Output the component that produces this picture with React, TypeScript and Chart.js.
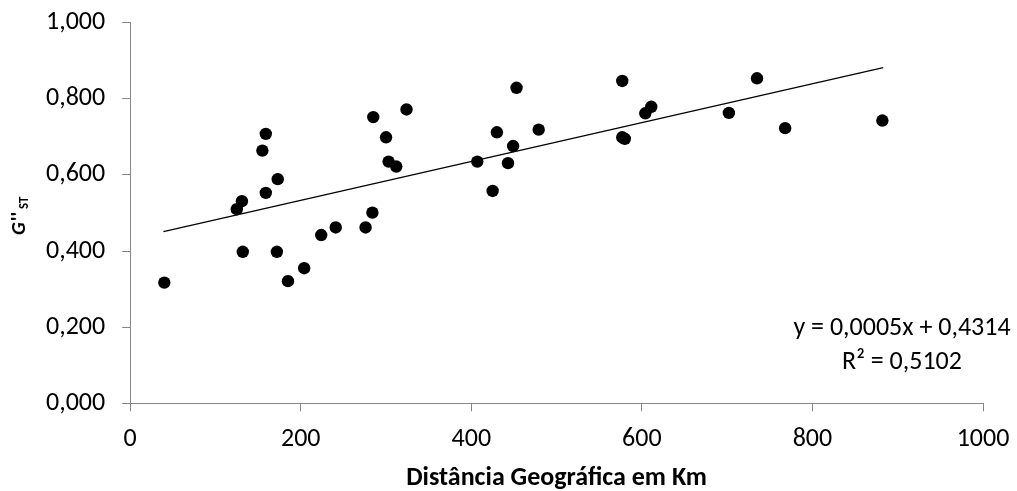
import React, { useEffect, useRef } from "react";
import { Chart, registerables } from "chart.js";

Chart.register(...registerables);

const distanceKm = [
  40, 125, 131, 132, 155, 159, 159, 173, 172, 185, 204, 224, 241, 276, 284, 285, 300, 303,
  312, 324, 407, 425, 430, 443, 449, 453, 479, 577, 577, 580, 604, 611, 702, 735, 768, 882,
];
const gstValues = [
  0.317, 0.51, 0.531, 0.398, 0.664, 0.708, 0.553, 0.589, 0.398, 0.321, 0.355, 0.442, 0.462,
  0.462, 0.501, 0.752, 0.699, 0.635, 0.622, 0.772, 0.635, 0.558, 0.712, 0.631, 0.676, 0.829,
  0.719, 0.847, 0.699, 0.695, 0.762, 0.779, 0.763, 0.854, 0.723, 0.743,
];
const trendX = [39, 883];
const trendY = [0.451, 0.882];
const xTicks = [0, 200, 400, 600, 800, 1000];
const yTicks = [0, 0.2, 0.4, 0.6, 0.8, 1.0];
const equationLines = ["y = 0,0005x + 0,4314", "R² = 0,5102"];
const xTitle = "Distância Geográfica em Km";

const FONT = "Carlito, Lato, 'Open Sans', sans-serif";
const AXIS = "#868686";

const annotPlugin = {
  id: "annot",
  afterDraw(chart: any) {
    const ctx = chart.ctx as CanvasRenderingContext2D;
    const area = chart.chartArea;
    ctx.save();
    ctx.fillStyle = "#000";
    // Y axis title: G''ST rotated
    ctx.translate(24.5, 235);
    ctx.rotate(-Math.PI / 2);
    ctx.textAlign = "left";
    ctx.textBaseline = "alphabetic";
    ctx.font = `italic bold 20px ${FONT}`;
    ctx.fillText("G", 0, 0);
    let w = ctx.measureText("G").width;
    ctx.font = `bold 20px ${FONT}`;
    ctx.fillText("''", w + 1, 0);
    w += 1 + ctx.measureText("''").width;
    ctx.font = `bold 13px ${FONT}`;
    ctx.fillText("ST", w + 3, 3);
    ctx.restore();

    // Regression equation
    ctx.save();
    ctx.fillStyle = "#000";
    ctx.textAlign = "center";
    ctx.textBaseline = "middle";
    ctx.font = `26px ${FONT}`;
    const cx = area.right - 81;
    ctx.fillText(equationLines[0], cx, area.bottom - 75);
    ctx.fillText(equationLines[1], cx, area.bottom - 41);
    ctx.restore();
  },
};

export default function App() {
  const ref = useRef<HTMLCanvasElement | null>(null);
  useEffect(() => {
    if (!ref.current) return;
    const points = distanceKm.map((x, i) => ({ x, y: gstValues[i] }));
    const trend = trendX.map((x, i) => ({ x, y: trendY[i] }));
    const chart = new Chart(ref.current, {
      type: "scatter",
      data: {
        datasets: [
          {
            type: "line",
            label: "Linear",
            data: trend,
            borderColor: "#000",
            borderWidth: 1.2,
            pointRadius: 0,
            fill: false,
          } as any,
          {
            label: "G''ST",
            data: points,
            backgroundColor: "#000",
            borderColor: "#000",
            borderWidth: 0,
            pointRadius: 6.2,
            pointHoverRadius: 6.2,
          },
        ],
      },
      options: {
        animation: false,
        responsive: true,
        maintainAspectRatio: false,
        layout: { padding: { left: 0, right: 34, top: 22.7, bottom: 0 } },
        plugins: { legend: { display: false }, tooltip: { enabled: false } },
        scales: {
          x: {
            type: "linear",
            min: 0,
            max: 1000,
            afterBuildTicks: (s: any) => {
              s.ticks = xTicks.map((v) => ({ value: v }));
            },
            afterFit: (s: any) => {
              s.height = 87.7;
              s.paddingLeft = 0;
              s.paddingRight = 0;
            },
            ticks: {
              color: "#000",
              font: { family: FONT, size: 26, lineHeight: 1 },
              padding: 15,
              maxRotation: 0,
              callback: (v: any) => String(v),
            },
            grid: { drawOnChartArea: false, drawTicks: true, tickLength: 8, color: AXIS },
            border: { color: AXIS, width: 1 },
            title: {
              display: true,
              text: xTitle,
              color: "#000",
              font: { family: FONT, size: 26, weight: "bold", lineHeight: 1 },
              padding: { top: 0, bottom: 0 },
            },
          },
          y: {
            type: "linear",
            min: 0,
            max: 1,
            afterBuildTicks: (s: any) => {
              s.ticks = yTicks.map((v) => ({ value: v }));
            },
            afterFit: (s: any) => {
              s.width = 130.2;
              s.paddingTop = 0;
              s.paddingBottom = 0;
            },
            ticks: {
              color: "#000",
              font: { family: FONT, size: 26, lineHeight: 1 },
              padding: 17,
              callback: (v: any) => Number(v).toFixed(3).replace(".", ","),
            },
            grid: { drawOnChartArea: false, drawTicks: true, tickLength: 8, color: AXIS },
            border: { color: AXIS, width: 1 },
          },
        },
      },
      plugins: [annotPlugin],
    });
    return () => chart.destroy();
  }, []);
  return (
    <div style={{ position: "fixed", left: 0, top: 0, width: 1017, height: 491, background: "#fff" }}>
      <canvas ref={ref} />
    </div>
  );
}
